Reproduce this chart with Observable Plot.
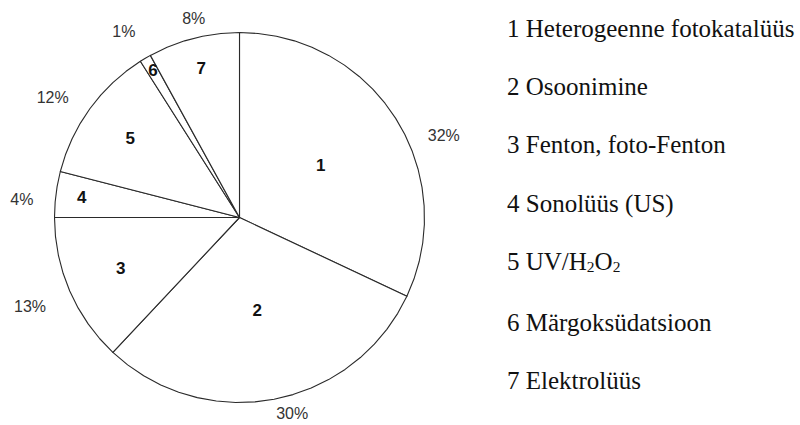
<!DOCTYPE html>
<html>
<head>
<meta charset="utf-8">
<script src="https://cdn.jsdelivr.net/npm/d3@7"></script>
<script src="https://cdn.jsdelivr.net/npm/@observablehq/plot@0.6"></script>
<style>
  html, body { margin: 0; padding: 0; background: #fff; }
  #wrap { position: relative; width: 800px; height: 425px; }
  #legend { position: absolute; left: 507px; top: 0px; font-family: 'Liberation Serif', 'Times New Roman', serif; font-size: 25px; color: #111; }
  #legend div { line-height: 58.2px; white-space: nowrap; }
  #legend sub { font-size: 0.62em; vertical-align: baseline; position: relative; top: 0.12em; }
</style>
</head>
<body>
<div id="wrap"></div>
<script>
// Data
const sliceIds = ["1", "2", "3", "4", "5", "6", "7"];
const sliceValues = [32, 30, 13, 4, 12, 1, 8];
const percentLabels = ["32%", "30%", "13%", "4%", "12%", "1%", "8%"];
const legendLabels = [
  "1 Heterogeenne fotokatalüüs",
  "2 Osoonimine",
  "3 Fenton, foto-Fenton",
  "4 Sonolüüs (US)",
  "5 UV/H<sub>2</sub>O<sub>2</sub>",
  "6 Märgoksüdatsioon",
  "7 Elektrolüüs"
];

// Layout tweaks for label placement (fractions of radius / degrees)
const innerLabelR = [0.52, 0.51, 0.70, 0.86, 0.73, 0.92, 0.83];
const outerLabelR = [1.19, 1.10, 1.23, 1.18, 1.20, 1.18, 1.10];
const outerLabelShift = [10.5, -4.2, 0.4, -2.7, -3.3, -1.4, 1.4];

const arcs = d3.pie().sort(null).startAngle(0).endAngle(2 * Math.PI)(sliceValues);

const outline = [];
arcs.forEach((a, i) => {
  outline.push({ id: sliceIds[i], x: 0, y: 0 });
  const n = Math.max(2, Math.ceil((a.endAngle - a.startAngle) / (Math.PI / 30)));
  for (let k = 0; k <= n; k++) {
    const t = a.startAngle + (a.endAngle - a.startAngle) * k / n;
    outline.push({ id: sliceIds[i], x: Math.sin(t), y: Math.cos(t) });
  }
  outline.push({ id: sliceIds[i], x: 0, y: 0 });
});

const inner = arcs.map((a, i) => {
  const m = (a.startAngle + a.endAngle) / 2;
  return { label: sliceIds[i], x: innerLabelR[i] * Math.sin(m), y: innerLabelR[i] * Math.cos(m) };
});
const outer = arcs.map((a, i) => {
  const m = (a.startAngle + a.endAngle) / 2 + outerLabelShift[i] * Math.PI / 180;
  return { label: percentLabels[i], x: outerLabelR[i] * Math.sin(m), y: outerLabelR[i] * Math.cos(m) };
});

const cx = 239, cy = 217, R = 185;
const chart = Plot.plot({
  width: 800,
  height: 425,
  margin: 0,
  style: { background: "transparent", fontFamily: "Liberation Sans, Arial, sans-serif" },
  x: { domain: [-1, 1], range: [cx - R, cx + R], axis: null },
  y: { domain: [-1, 1], range: [cy + R, cy - R], axis: null },
  marks: [
    Plot.line(outline, { x: "x", y: "y", z: "id", fill: "white", stroke: "#2a2a2a", strokeWidth: 1.1, strokeLinejoin: "round", curve: "linear" }),
    Plot.text(inner, { x: "x", y: "y", text: "label", fontSize: 17, fontWeight: "bold", fill: "#111" }),
    Plot.text(outer, { x: "x", y: "y", text: "label", fontSize: 16, fill: "#333" })
  ]
});

const wrap = document.getElementById("wrap");
wrap.appendChild(chart);
const legend = document.createElement("div");
legend.id = "legend";
legend.innerHTML = legendLabels.map(l => `<div>${l}</div>`).join("");
wrap.appendChild(legend);
</script>
</body>
</html>
